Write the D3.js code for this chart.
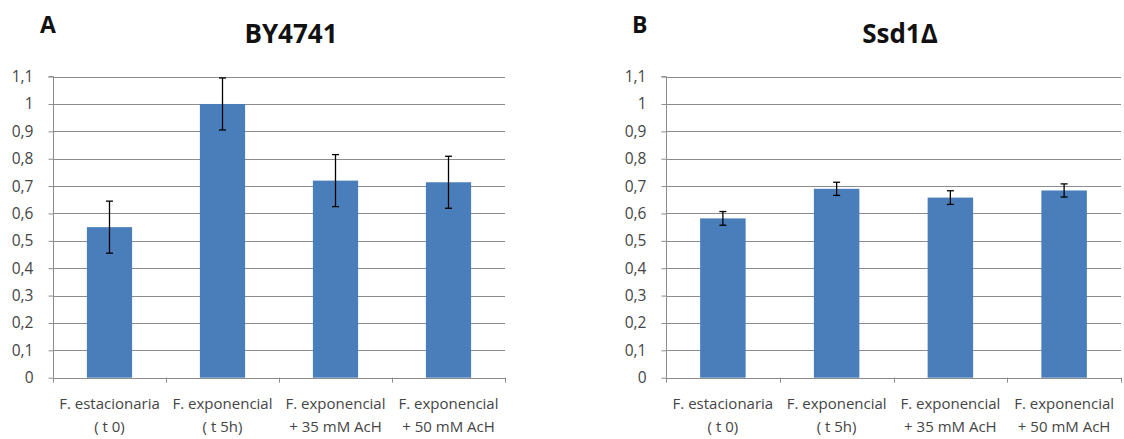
<!DOCTYPE html>
<html><head><meta charset="utf-8">
<script src="https://cdn.jsdelivr.net/npm/d3@7"></script>
<style>body{margin:0;background:#fff}svg{display:block}</style>
</head><body>
<svg id="c" width="1124" height="439"></svg>
<script>
const categoriesLine1 = ["F. estacionaria", "F. exponencial", "F. exponencial", "F. exponencial"];
const categoriesLine2 = ["( t 0)", "( t 5h)", "+ 35 mM AcH", "+ 50 mM AcH"];
const categories = ["c1","c2","c3","c4"];
const valuesA = [0.55, 1.0, 0.72, 0.714];
const errorsA = [0.095, 0.095, 0.095, 0.095];
const valuesB = [0.582, 0.69, 0.658, 0.684];
const errorsB = [0.025, 0.024, 0.025, 0.024];
const yTicks = [0,0.1,0.2,0.3,0.4,0.5,0.6,0.7,0.8,0.9,1,1.1];
const yTickLabels = ["0","0,1","0,2","0,3","0,4","0,5","0,6","0,7","0,8","0,9","1","1,1"];

const svg = d3.select("#c");
const font = "'Open Sans', 'Noto Sans', sans-serif";

function panel(x0, x1, letter, letterX, title, titleX, values, errors) {
  const g = svg.append("g");
  const y = d3.scaleLinear().domain([0, 1.1]).range([377.7, 76.6]);
  const x = d3.scaleBand().domain(categories).range([x0, x1]).paddingInner(0.6).paddingOuter(0.3);
  const step = (x1 - x0) / categories.length;

  // gridlines
  g.append("g").selectAll("line").data(yTicks.slice(1)).join("line")
    .attr("x1", x0).attr("x2", x1)
    .attr("y1", d => Math.round(y(d)) + 0.5).attr("y2", d => Math.round(y(d)) + 0.5)
    .attr("stroke", "#8c8c8c").attr("stroke-width", 1);

  // y axis
  const ya = d3.axisLeft(y).tickValues(yTicks).tickSize(5).tickPadding(15)
    .tickFormat((d, i) => yTickLabels[i]);
  const yg = g.append("g").attr("transform", `translate(${x0 + 0.5},0)`).call(ya);
  yg.select(".domain").attr("stroke", "#8c8c8c").attr("d", `M-5,${y(1.1)}H0V${y(0)}`);
  yg.selectAll(".tick line").attr("stroke", "#8c8c8c");
  yg.selectAll(".tick text").attr("font-family", font).attr("font-size", 15.5).attr("fill", "#454545");

  // bars
  g.append("g").selectAll("rect").data(values).join("rect")
    .attr("x", (d, i) => x(categories[i])).attr("width", x.bandwidth())
    .attr("y", d => y(d)).attr("height", d => y(0) - y(d))
    .attr("fill", "#4a7ebb");

  // x axis
  const xa = g.append("g");
  xa.append("line").attr("x1", x0).attr("x2", x1).attr("y1", Math.round(y(0)) + 0.5).attr("y2", Math.round(y(0)) + 0.5)
    .attr("stroke", "#8c8c8c");
  xa.selectAll(".tk").data(d3.range(categories.length + 1)).join("line").attr("class", "tk")
    .attr("x1", i => Math.round(x0 + i * step) + 0.5).attr("x2", i => Math.round(x0 + i * step) + 0.5)
    .attr("y1", y(0)).attr("y2", y(0) + 5).attr("stroke", "#8c8c8c");
  const lab = xa.selectAll(".lab").data(categories).join("text").attr("class", "lab")
    .attr("x", d => x(d) + x.bandwidth() / 2).attr("text-anchor", "middle")
    .attr("font-family", font).attr("font-size", 15).attr("fill", "#454545");
  lab.append("tspan").attr("x", d => x(d) + x.bandwidth() / 2).attr("y", 409).text((d, i) => categoriesLine1[i]);
  lab.append("tspan").attr("x", d => x(d) + x.bandwidth() / 2).attr("y", 432).text((d, i) => categoriesLine2[i]);

  // error bars
  const eb = g.append("g").attr("stroke", "#000").attr("stroke-width", 1.3);
  values.forEach((v, i) => {
    const cx = x(categories[i]) + x.bandwidth() / 2;
    eb.append("line").attr("x1", cx).attr("x2", cx).attr("y1", y(v + errors[i])).attr("y2", y(v - errors[i]));
    eb.append("line").attr("x1", cx - 3.5).attr("x2", cx + 3.5).attr("y1", y(v + errors[i])).attr("y2", y(v + errors[i]));
    eb.append("line").attr("x1", cx - 3.5).attr("x2", cx + 3.5).attr("y1", y(v - errors[i])).attr("y2", y(v - errors[i]));
  });

  // titles
  svg.append("text").attr("x", letterX).attr("y", 33).attr("font-family", font).attr("font-weight", 700)
    .attr("font-size", 23).attr("fill", "#111").text(letter);
  svg.append("text").attr("x", titleX).attr("y", 43).attr("text-anchor", "middle").attr("font-family", font)
    .attr("font-weight", 700).attr("font-size", 26).attr("fill", "#111").text(title);
}

panel(53, 505, "A", 40, "BY4741", 291, valuesA, errorsA);
panel(666, 1121, "B", 632, "Ssd1Δ", 900, valuesB, errorsB);
</script>
</body></html>
